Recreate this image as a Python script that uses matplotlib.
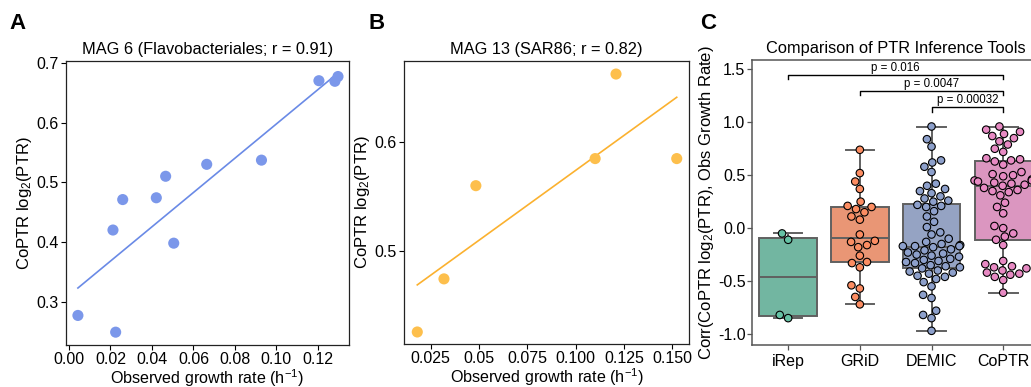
import numpy as np
import pandas as pd
import matplotlib
matplotlib.use("Agg")
import matplotlib.pyplot as plt
import seaborn as sns

# Panel A: MAG 6 (Flavobacteriales)
mag6_growth = [0.0043, 0.0225, 0.0212, 0.0259, 0.0421, 0.0466, 0.0505, 0.0664, 0.0928, 0.1205, 0.1282, 0.1297]
mag6_ptr = [0.277, 0.249, 0.420, 0.471, 0.474, 0.510, 0.398, 0.530, 0.537, 0.670, 0.669, 0.677]

# Panel B: MAG 13 (SAR86)
mag13_growth = [0.0181, 0.0319, 0.0484, 0.1101, 0.1209, 0.1523]
mag13_ptr = [0.425, 0.474, 0.560, 0.585, 0.663, 0.585]

# Panel C: per-MAG correlations for each tool
tools = ["iRep", "GRiD", "DEMIC", "CoPTR"]
irep_corr = [-0.05, -0.11, -0.82, -0.85]
grid_corr = [0.74, 0.52, 0.44, 0.37, 0.25, 0.21, 0.20, 0.18, 0.15, 0.11, 0.08, -0.06,
             -0.12, -0.13, -0.16, -0.18, -0.26, -0.32, -0.33, -0.37, -0.54, -0.57, -0.65, -0.72]
demic_corr = [0.96, 0.84, 0.77, 0.64, 0.62, 0.58, 0.53, 0.42, 0.40, 0.37, 0.35, 0.33, 0.30,
              0.28, 0.26, 0.25, 0.22, 0.21, 0.20, 0.16, 0.11, 0.06, 0.01, -0.04, -0.06, -0.10,
              -0.13, -0.15, -0.16, -0.17, -0.17, -0.17, -0.18, -0.20, -0.21, -0.23, -0.24, -0.25,
              -0.26, -0.27, -0.29, -0.30, -0.31, -0.32, -0.33, -0.35, -0.36, -0.37, -0.38, -0.40,
              -0.41, -0.42, -0.43, -0.45, -0.46, -0.48, -0.51, -0.55, -0.63, -0.66, -0.78, -0.82,
              -0.85, -0.97]
coptr_corr = [0.96, 0.93, 0.91, 0.89, 0.87, 0.85, 0.82, 0.79, 0.75, 0.72, 0.66, 0.65, 0.64,
              0.63, 0.60, 0.53, 0.51, 0.50, 0.49, 0.46, 0.45, 0.45, 0.44, 0.43, 0.42, 0.41, 0.40,
              0.38, 0.36, 0.35, 0.34, 0.31, 0.24, 0.20, 0.14, 0.02, 0.00, -0.05, -0.08, -0.11,
              -0.16, -0.31, -0.34, -0.36, -0.37, -0.38, -0.40, -0.42, -0.43, -0.44, -0.46, -0.49,
              -0.61]

# significance comparisons (tool pair, p-value)
comparisons = [("iRep", "CoPTR", "p = 0.016"), ("GRiD", "CoPTR", "p = 0.0047"), ("DEMIC", "CoPTR", "p = 0.00032")]
bracket_y = [1.446, 1.298, 1.141]

plt.rcParams["font.family"] = ["Liberation Sans", "DejaVu Sans"]
plt.rcParams["mathtext.fontset"] = "custom"
plt.rcParams["mathtext.rm"] = "Liberation Sans"
plt.rcParams["mathtext.it"] = "Liberation Sans:italic"

fig = plt.figure(figsize=(10.31, 3.87), dpi=100)
axA = fig.add_axes([0.0637, 0.1085, 0.2748, 0.7339])
axB = fig.add_axes([0.3918, 0.1111, 0.2764, 0.7320])
axC = fig.add_axes([0.7297, 0.1085, 0.2781, 0.7364])

ylab = r"CoPTR log$_\mathregular{2}$(PTR)"
xlab = r"Observed growth rate (h$^\mathregular{-1}$)"


def scatter_panel(ax, x, y, pt_color, line_color, title):
    x = np.asarray(x)
    y = np.asarray(y)
    ax.scatter(x, y, s=64, color=pt_color, edgecolors="none", zorder=3)
    slope, icpt = np.polyfit(x, y, 1)
    xs = np.array([x.min(), x.max()])
    ax.plot(xs, slope * xs + icpt, color=line_color, lw=1.2, zorder=2)
    ax.set_title(title, fontsize=11.8, pad=5)
    ax.set_xlabel(xlab, fontsize=11.6, labelpad=0)
    ax.set_ylabel(ylab, fontsize=12, labelpad=2)
    ax.tick_params(labelsize=11.5, length=3.5, width=0.8, pad=1.5)
    for s in ax.spines.values():
        s.set_linewidth(0.9)
        s.set_color("#222222")


scatter_panel(axA, mag6_growth, mag6_ptr, "#7b97ea", "#6a8ae6", "MAG 6 (Flavobacteriales; r = 0.91)")
axA.set_xlim(-0.0016, 0.135)
axA.set_ylim(0.2275, 0.703)
axA.set_xticks([0.0, 0.02, 0.04, 0.06, 0.08, 0.10, 0.12])
axA.set_xticklabels(["0.00", "0.02", "0.04", "0.06", "0.08", "0.10", "0.12"])
axA.set_yticks([0.3, 0.4, 0.5, 0.6, 0.7])

scatter_panel(axB, mag13_growth, mag13_ptr, "#fdbf4c", "#fbb12f", "MAG 13 (SAR86; r = 0.82)")
axB.set_xlim(0.0112, 0.1586)
axB.set_ylim(0.4139, 0.6753)
axB.set_xticks([0.025, 0.05, 0.075, 0.100, 0.125, 0.150])
axB.set_xticklabels(["0.025", "0.05", "0.075", "0.100", "0.125", "0.150"])
axB.set_yticks([0.5, 0.6])

# Panel C
df = pd.DataFrame({
    "tool": ["iRep"] * len(irep_corr) + ["GRiD"] * len(grid_corr)
            + ["DEMIC"] * len(demic_corr) + ["CoPTR"] * len(coptr_corr),
    "corr": irep_corr + grid_corr + demic_corr + coptr_corr,
})
pal = sns.color_palette("Set2", 4)
sns.boxplot(data=df, x="tool", y="corr", hue="tool", order=tools, hue_order=tools,
            palette=pal, whis=(0, 100), showfliers=False, saturation=0.75,
            linecolor="#606060", linewidth=1.4, width=0.8, legend=False, ax=axC)
sns.swarmplot(data=df, x="tool", y="corr", hue="tool", order=tools, hue_order=tools,
              palette=pal, size=5.4, edgecolor="black", linewidth=0.8, legend=False, ax=axC)
axC.set_xlim(-0.5, 3.5)
axC.set_ylim(-1.104, 1.588)
axC.set_yticks([-1.0, -0.5, 0.0, 0.5, 1.0, 1.5])
axC.set_yticklabels(["-1.0", "-0.5", "0.0", "0.5", "1.0", "1.5"])
axC.set_xlabel("")
axC.set_ylabel(r"Corr(CoPTR log$_\mathregular{2}$(PTR), Obs Growth Rate)", fontsize=12, labelpad=1)
axC.set_title("Comparison of PTR Inference Tools", fontsize=11.8, pad=5)
axC.tick_params(labelsize=11.5, length=3.5, width=0.9, pad=1.5, color="#555555")
axC.tick_params(axis="x", pad=3)
for s in axC.spines.values():
    s.set_linewidth(1.1)
    s.set_color("#555555")

for (a, b, label), yb in zip(comparisons, bracket_y):
    x1, x2 = tools.index(a), tools.index(b)
    axC.plot([x1, x1, x2, x2], [yb - 0.04, yb, yb, yb - 0.04], color="black", lw=1.0, clip_on=False)
    axC.text((x1 + x2) / 2, yb + 0.008, label, ha="center", va="bottom", fontsize=8.3)

# panel letters
fig.text(0.009, 0.925, "A", fontsize=16, fontweight="bold")
fig.text(0.357, 0.925, "B", fontsize=16, fontweight="bold")
fig.text(0.679, 0.925, "C", fontsize=16, fontweight="bold")

fig.savefig("out.png", dpi=100)
